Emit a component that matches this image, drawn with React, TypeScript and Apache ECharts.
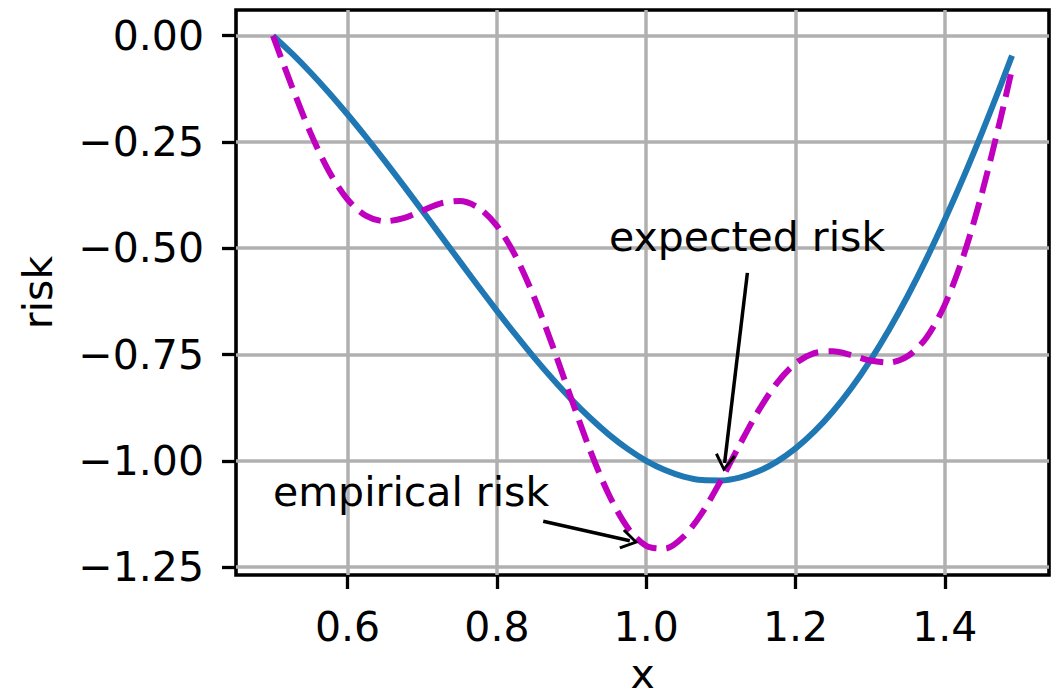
import React, { useEffect, useRef } from "react";
import * as echarts from "echarts";

const xs = [0.5, 0.525, 0.55, 0.575, 0.6, 0.625, 0.65, 0.675, 0.7, 0.725, 0.75, 0.775, 0.8, 0.825, 0.85, 0.875, 0.9, 0.925, 0.95, 0.975, 1.0, 1.025, 1.05, 1.075, 1.1, 1.125, 1.15, 1.175, 1.2, 1.225, 1.25, 1.275, 1.3, 1.325, 1.35, 1.375, 1.4, 1.425, 1.45, 1.475, 1.49];

const expectedRisk = [0, -0.0412, -0.086, -0.1342, -0.1854, -0.2392, -0.2951, -0.3527, -0.4115, -0.4709, -0.5303, -0.5893, -0.6472, -0.7034, -0.7574, -0.8084, -0.856, -0.8994, -0.9383, -0.972, -1.0, -1.0218, -1.0371, -1.0453, -1.0462, -1.0394, -1.0247, -1.0019, -0.9708, -0.9315, -0.8839, -0.8281, -0.7641, -0.6923, -0.6129, -0.5262, -0.4326, -0.3327, -0.2268, -0.1157, -0.0468];

const empiricalRisk = [0, -0.1177, -0.2275, -0.319, -0.3854, -0.424, -0.4365, -0.4292, -0.4115, -0.3943, -0.3889, -0.4045, -0.4472, -0.5187, -0.6159, -0.7319, -0.856, -0.976, -1.0797, -1.1568, -1.2, -1.2066, -1.1785, -1.1218, -1.0462, -0.9628, -0.8832, -0.8171, -0.7708, -0.7467, -0.7425, -0.7515, -0.7641, -0.7689, -0.7543, -0.711, -0.6326, -0.5175, -0.3683, -0.1923, -0.0781];

const xTicks = [0.6, 0.8, 1.0, 1.2, 1.4];
const yTicks = [-1.25, -1.0, -0.75, -0.5, -0.25, 0.0];

// annotations: text anchor (x, y), arrow start, arrow tip (data units)
const annEmpiricalText = [0.5, -1.1];
const annEmpiricalArrow = [[0.862, -1.142], [0.978, -1.188]];
const annExpectedText = [0.95, -0.5];
const annExpectedArrow = [[1.1355, -0.558], [1.105, -1.005]];

const FONT = "DejaVu Sans";
const FS = 41;

const arrowPath = "path://M10,0 L20,15 L17.6,16.6 L10,4.8 L2.4,16.6 L0,15 Z";

export default function App() {
  const ref = useRef<HTMLDivElement>(null);
  useEffect(() => {
    if (!ref.current) return;
    const chart = echarts.init(ref.current, null, { renderer: "svg" });
    const xMin = 0.4505, xMax = 1.5395, yMin = -1.2686, yMax = 0.0604;
    const textLabel = (txt: string) => ({
      show: true,
      formatter: txt,
      position: [0, 0],
      align: "left",
      verticalAlign: "middle",
      offset: [0, -11],
      fontFamily: FONT,
      fontSize: FS,
      color: "#000",
    });
    const arrowLine = (a: number[][]) => [
      { coord: a[0], symbol: "none" },
      { coord: a[1], symbol: arrowPath, symbolSize: [21, 18] },
    ];
    chart.setOption({
      animation: false,
      grid: {
        left: 236, right: 7, top: 10, bottom: 123,
        outerBoundsMode: "none",
        containLabel: false,
        show: true, borderColor: "#000", borderWidth: 3.6, backgroundColor: "#fff",
      },
      xAxis: {
        type: "value", min: xMin, max: xMax,
        name: "x", nameLocation: "middle", nameGap: 85,
        nameTextStyle: { fontFamily: FONT, fontSize: FS, color: "#000", lineHeight: 28 },
        axisLine: { show: false, onZero: false },
        axisTick: { show: true, length: 14, lineStyle: { color: "#000", width: 3.3 }, customValues: xTicks },
        axisLabel: {
          fontFamily: FONT, fontSize: FS, color: "#000", margin: 31,
          customValues: xTicks,
          formatter: (v: number) => v.toFixed(1),
        },
        splitLine: { show: true, lineStyle: { color: "#b0b0b0", width: 3.5 } },
      },
      yAxis: {
        type: "value", min: yMin, max: yMax,
        name: "risk", nameLocation: "middle", nameGap: 178,
        nameTextStyle: { fontFamily: FONT, fontSize: FS, color: "#000" },
        axisLine: { show: false, onZero: false },
        axisTick: { show: true, length: 14, lineStyle: { color: "#000", width: 3.3 }, customValues: yTicks },
        axisLabel: {
          fontFamily: FONT, fontSize: FS, color: "#000", margin: 32,
          customValues: yTicks,
          formatter: (v: number) => (v < 0 ? "\u2212" + Math.abs(v).toFixed(2) : "0.00"),
        },
        splitLine: { show: true, lineStyle: { color: "#b0b0b0", width: 3.5 } },
      },
      series: [
        {
          name: "expected",
          type: "line",
          data: xs.map((x, i) => [x, expectedRisk[i]]),
          showSymbol: false,
          smooth: 0.3,
          lineStyle: { color: "#1f77b4", width: 6 },
          z: 3,
        },
        {
          name: "empirical",
          type: "line",
          data: xs.map((x, i) => [x, empiricalRisk[i]]),
          showSymbol: false,
          smooth: 0.3,
          lineStyle: { color: "#bf00bf", width: 6, type: [23, 10] },
          z: 4,
          markPoint: {
            symbol: "circle",
            symbolSize: 0,
            silent: true,
            data: [
              { coord: annEmpiricalText, label: textLabel("empirical risk") },
              { coord: annExpectedText, label: textLabel("expected risk") },
            ],
          },
          markLine: {
            silent: true,
            symbol: ["none", arrowPath],
            label: { show: false },
            lineStyle: { color: "#000", width: 3.5, type: "solid" },
            itemStyle: { color: "#000" },
            data: [arrowLine(annEmpiricalArrow), arrowLine(annExpectedArrow)],
          },
        },
      ],
    });
    return () => chart.dispose();
  }, []);
  return (
    <div
      ref={ref}
      style={{ position: "fixed", left: 0, top: 0, width: 1056, height: 698, background: "#fff" }}
    />
  );
}
